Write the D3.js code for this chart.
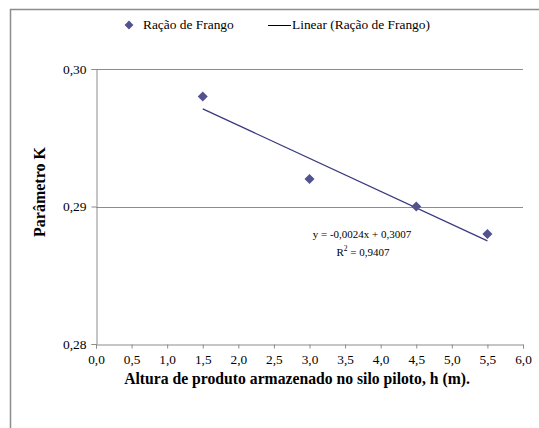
<!DOCTYPE html>
<html>
<head>
<meta charset="utf-8">
<script src="https://cdn.jsdelivr.net/npm/d3@7"></script>
<style>
  html, body { margin: 0; padding: 0; background: #fff; }
  svg { display: block; }
</style>
</head>
<body>
<svg id="chart" width="539" height="428"></svg>
<script>
// Altura de produto (m) e parâmetro K medido
const alturas = [1.5, 3.0, 4.5, 5.5];
const parametroK = [0.298, 0.292, 0.290, 0.288];

const xTicks = [0, 0.5, 1, 1.5, 2, 2.5, 3, 3.5, 4, 4.5, 5, 5.5, 6];
const yTicks = [0.28, 0.29, 0.30];

// Linha de tendência linear
const inclinacao = -0.0024;
const intercepto = 0.3007;
const r2 = 0.9407;

const svg = d3.select("#chart");
const W = 539, H = 428;
const m = { left: 96, right: 16, top: 69, bottom: 84 };

// números no formato brasileiro: vírgula decimal, hífen como sinal
const ptBR = d3.formatLocale({ decimal: ",", thousands: ".", grouping: [3], currency: ["R$", ""], minus: "-" });
const fmt1 = ptBR.format(".1f"), fmt2 = ptBR.format(".2f"), fmt4 = ptBR.format(".4f");

// moldura externa
svg.append("rect")
  .attr("x", 10.5).attr("y", 9.5)
  .attr("width", W).attr("height", H)
  .attr("fill", "none").attr("stroke", "#8c8c8c").attr("stroke-width", 1.5);

const x = d3.scaleLinear().domain([0, 6]).range([m.left, W - m.right]);
const y = d3.scaleLinear().domain([0.28, 0.30]).range([H - m.bottom, m.top]);

// linhas de grade horizontais
svg.append("g")
  .selectAll("line")
  .data(yTicks.filter(d => d > 0.28))
  .join("line")
  .attr("x1", x(0)).attr("x2", x(6))
  .attr("y1", d => Math.round(y(d)) + 0.5).attr("y2", d => Math.round(y(d)) + 0.5)
  .attr("stroke", "#8c8c8c").attr("stroke-width", 1);

// eixo X
const gx = svg.append("g")
  .attr("transform", `translate(0,${Math.round(y(0.28)) + 0.5})`)
  .call(d3.axisBottom(x).tickValues(xTicks).tickSize(4).tickPadding(6)
    .tickFormat(fmt1));
gx.select(".domain").attr("stroke", "#8c8c8c");
gx.selectAll(".tick line").attr("stroke", "#8c8c8c");
gx.selectAll("text").attr("font-size", 13.3);

// eixo Y
const gy = svg.append("g")
  .attr("transform", `translate(${Math.round(x(0)) + 0.5},0)`)
  .call(d3.axisLeft(y).tickValues(yTicks).tickSize(5).tickPadding(5)
    .tickFormat(fmt2));
gy.select(".domain").attr("stroke", "#8c8c8c");
gy.selectAll(".tick line").attr("stroke", "#8c8c8c");
gy.selectAll("text").attr("font-size", 13.5);

// linha de tendência
const x0 = d3.min(alturas), x1 = d3.max(alturas);
svg.append("line")
  .attr("x1", x(x0)).attr("y1", y(inclinacao * x0 + intercepto))
  .attr("x2", x(x1)).attr("y2", y(inclinacao * x1 + intercepto))
  .attr("stroke", "#3a3a80").attr("stroke-width", 1.3);

// pontos medidos
const diamante = d3.symbol().type(d3.symbolDiamond2).size(64);
svg.append("g")
  .selectAll("path")
  .data(alturas.map((h, i) => [h, parametroK[i]]))
  .join("path")
  .attr("d", diamante)
  .attr("transform", d => `translate(${x(d[0])},${y(d[1])})`)
  .attr("fill", "#52528f");

// equação e R²
const eq = svg.append("g").attr("font-size", 11).attr("text-anchor", "middle");
eq.append("text").attr("x", 362).attr("y", 238)
  .text(`y = ${fmt4(inclinacao)}x + ${fmt4(intercepto)}`);
const r2t = eq.append("text").attr("x", 363).attr("y", 256);
r2t.append("tspan").text("R");
r2t.append("tspan").attr("font-size", 7.5).attr("dy", -5).text("2");
r2t.append("tspan").attr("dy", 5).text(` = ${fmt4(r2)}`);

// títulos dos eixos
svg.append("text")
  .attr("x", 297).attr("y", 384)
  .attr("text-anchor", "middle").attr("font-size", 15.7).attr("font-weight", "bold")
  .text("Altura de produto armazenado no silo piloto, h (m).");
svg.append("text")
  .attr("transform", "translate(45,192) rotate(-90)")
  .attr("text-anchor", "middle").attr("font-size", 16).attr("font-weight", "bold")
  .text("Parâmetro K");

// legenda
const leg = svg.append("g").attr("font-size", 13.4);
leg.append("path").attr("d", d3.symbol().type(d3.symbolDiamond2).size(50))
  .attr("transform", "translate(129,25)").attr("fill", "#52528f");
leg.append("text").attr("x", 143).attr("y", 29).text("Ração de Frango");
leg.append("line").attr("x1", 268).attr("x2", 291).attr("y1", 25.5).attr("y2", 25.5)
  .attr("stroke", "#000").attr("stroke-width", 1);
leg.append("text").attr("x", 292).attr("y", 29).text("Linear (Ração de Frango)");

// fonte serifada em todos os textos
svg.selectAll("text")
  .style("font-family", "Liberation Serif")
  .style("fill", "#000");
</script>
</body>
</html>
